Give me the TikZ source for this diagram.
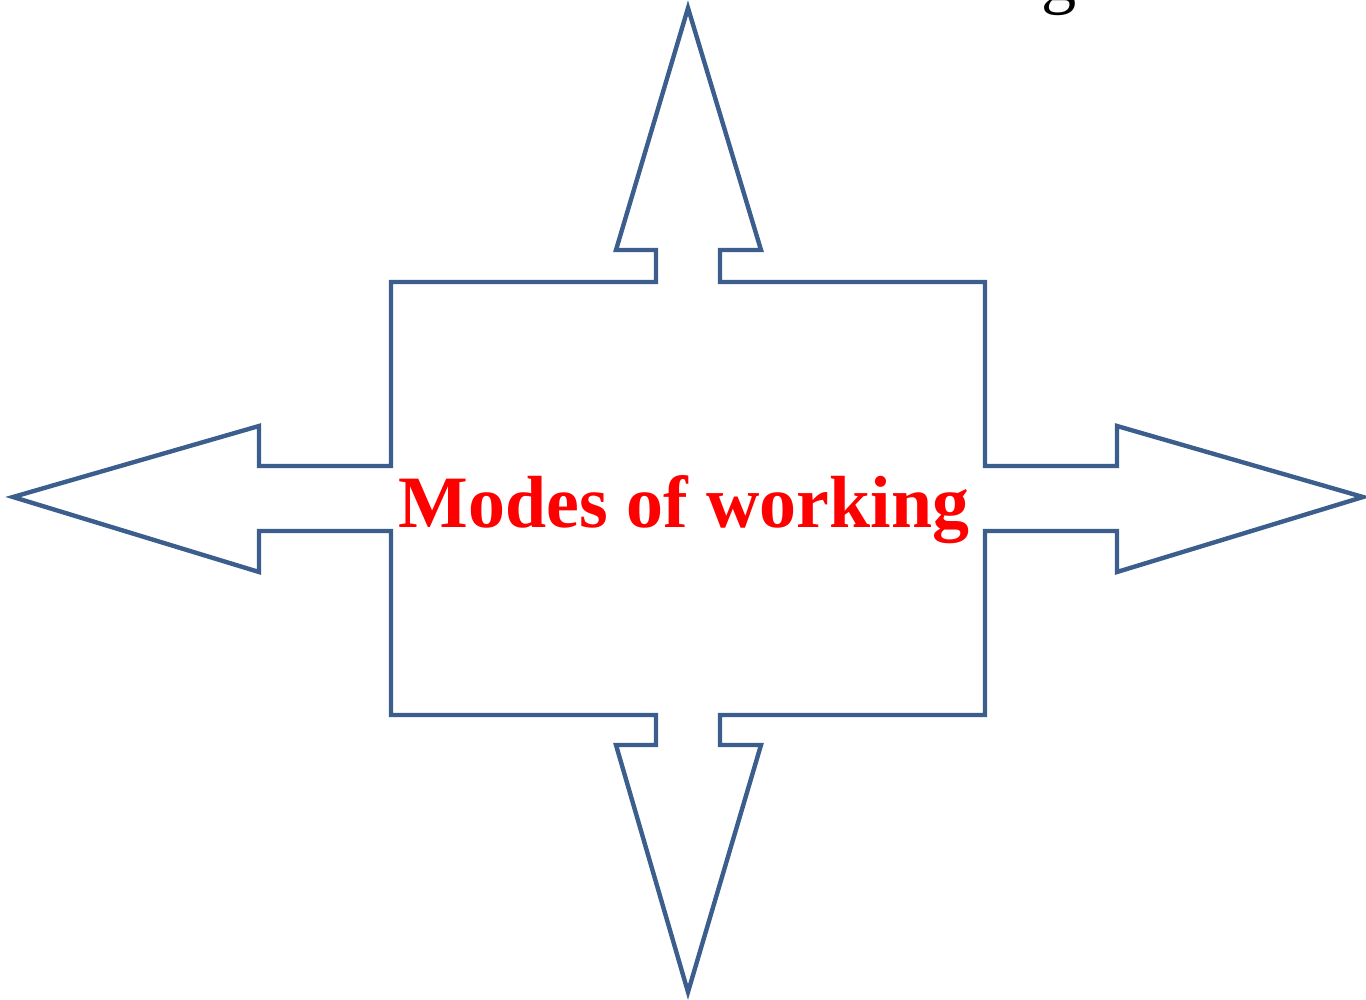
\documentclass[tikz,border=0pt]{standalone}
\usepackage{fontspec}
\setmainfont{Liberation Serif}
\definecolor{outline}{RGB}{59,94,140}
\definecolor{title}{RGB}{255,0,0}
\begin{document}
\begin{tikzpicture}[x=0.01cm, y=-0.01cm]
\useasboundingbox (0,0) rectangle (1366,1000);
\draw[outline, line width=1.25pt, line join=miter]
  (688,8) -- (616,250) -- (656,250) -- (656,282) -- (391,282) -- (391,466)
  -- (259,466) -- (259,426) -- (13,497) -- (259,572) -- (259,531) -- (391,531)
  -- (391,715) -- (656,715) -- (656,745) -- (616,745) -- (688,992) -- (761,745)
  -- (720,745) -- (720,715) -- (985,715) -- (985,531) -- (1117,531) -- (1117,572)
  -- (1363,497) -- (1117,426) -- (1117,466) -- (985,466) -- (985,282) -- (720,282)
  -- (720,250) -- (761,250) -- cycle;
\node[text=title, font=\fontsize{21}{25}\selectfont\bfseries] (modes) at (684,510) {Modes of working};
\node[anchor=base, inner sep=0pt, font=\fontsize{20}{24}\selectfont] (cut) at (1059,1) {g};
\end{tikzpicture}
\end{document}
